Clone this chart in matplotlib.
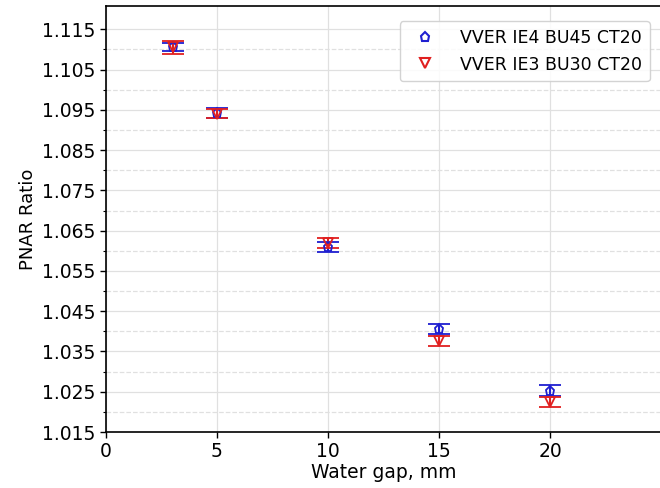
import matplotlib
matplotlib.use("Agg")
import matplotlib.pyplot as plt
from matplotlib.ticker import FormatStrFormatter
from matplotlib.lines import Line2D

gap = [3, 5, 10, 15, 20]
blue_vals = [1.1106, 1.0942, 1.0610, 1.0405, 1.0253]
blue_err = [0.0010, 0.0012, 0.0012, 0.0012, 0.0013]
red_vals = [1.1105, 1.0941, 1.0619, 1.0376, 1.0225]
red_err = [0.0016, 0.0012, 0.0013, 0.0012, 0.0013]
labels = ["VVER IE4 BU45 CT20", "VVER IE3 BU30 CT20"]
blue = '#1f1fd0'
red = '#e02020'

fig = plt.figure(figsize=(6.6, 4.88), dpi=100)
ax = fig.add_axes([106/660, 56/488, 555/660, 426/488])

ax.errorbar(gap, blue_vals, yerr=blue_err, fmt='p', color=blue, mfc='none',
            mec=blue, ms=6.5, mew=1.3, capsize=8, capthick=1.8, elinewidth=1.5,
            zorder=3)
ax.errorbar(gap, red_vals, yerr=red_err, fmt='v', color=red, mfc='none',
            mec=red, ms=6.5, mew=1.3, capsize=8, capthick=1.8, elinewidth=1.5,
            zorder=3)

ax.set_xlim(0, 25)
ax.set_ylim(1.015, 1.1208)
ax.set_xticks([0, 5, 10, 15, 20])
ax.set_yticks([1.015 + 0.01*i for i in range(11)])
ax.set_yticks([1.020 + 0.01*i for i in range(10)], minor=True)
ax.yaxis.set_major_formatter(FormatStrFormatter('%.3f'))

ax.grid(True, which='major', color='#e0e0e0', linestyle='-', linewidth=0.9)
ax.grid(True, which='minor', axis='y', color='#e0e0e0', linestyle='--', linewidth=0.9)
ax.set_axisbelow(True)

ax.tick_params(axis='both', which='major', labelsize=13.5, length=4, width=1)
ax.tick_params(axis='y', which='minor', length=2.5, width=0.8)
for s in ax.spines.values():
    s.set_linewidth(1.2)

ax.set_xlabel("Water gap, mm", fontsize=13.5, labelpad=1)
ax.set_ylabel("PNAR Ratio", fontsize=13, labelpad=4)

handles = [Line2D([], [], linestyle='none', marker='p', mfc='none', mec=blue, ms=6.5, mew=1.5),
           Line2D([], [], linestyle='none', marker='v', mfc='none', mec=red, ms=6.5, mew=1.5)]
ax.legend(handles, labels, loc='upper right', fontsize=12.5, frameon=True, framealpha=0.85,
          edgecolor='#cccccc', handletextpad=1.0, borderpad=0.45,
          bbox_to_anchor=(0.995, 0.985))

fig.savefig("out.png", dpi=100)
